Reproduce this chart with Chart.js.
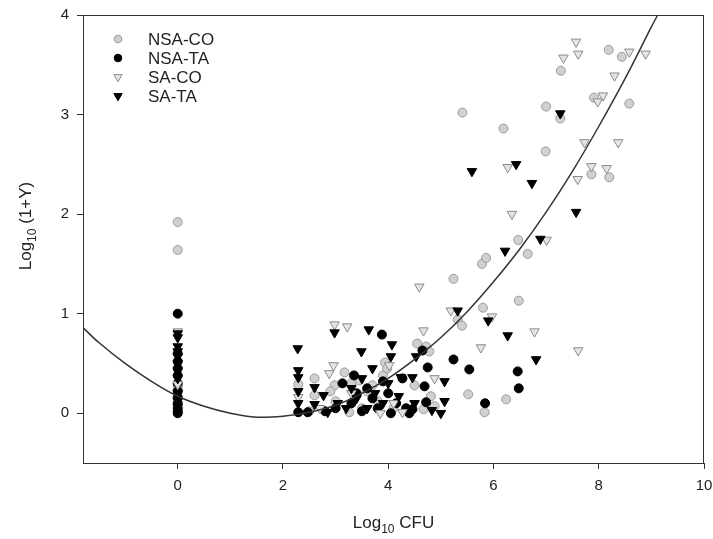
<!DOCTYPE html>
<html>
<head>
<meta charset="utf-8">
<script src="https://cdn.jsdelivr.net/npm/chart.js@4/dist/chart.umd.min.js"></script>
<style>
  html, body { margin: 0; padding: 0; background: #fff; }
  #wrap { width: 713px; height: 539px; }
</style>
</head>
<body>
<div id="wrap"><canvas id="c" width="713" height="539"></canvas></div>
<script>
// ---- data ----
const seriesNames = ['NSA-CO', 'NSA-TA', 'SA-CO', 'SA-TA'];
const xTicks = [0, 2, 4, 6, 8, 10];
const yTicks = [0, 1, 2, 3, 4];

const nsaCo = [
  [0,1.92],[0,1.64],[0,0.27],[0,0.24],
  [2.29,0.29],[2.60,0.35],[2.60,0.18],[2.98,0.28],[3.17,0.41],[3.26,0.01],[2.9,0.22],[3.3,0.30],
  [3.45,0.33],[3.6,0.22],[3.0,0.12],[3.7,0.28],[3.9,0.38],[3.94,0.51],[3.98,0.45],[3.8,0.12],
  [4.1,0.05],[4.55,0.70],[4.72,0.67],[4.78,0.62],[4.81,0.17],[4.88,0.07],[4.67,0.04],[4.5,0.28],
  [3.5,0.05],[2.5,0.02],
  [5.24,1.35],[5.32,0.94],[5.40,0.88],[5.78,1.50],[5.86,1.56],[5.80,1.06],[6.48,1.13],[5.52,0.19],
  [6.24,0.14],[5.83,0.01],[5.41,3.02],[6.19,2.86],[7.00,3.08],[7.27,2.96],[6.99,2.63],[7.91,3.17],
  [8.58,3.11],[7.86,2.40],[8.20,2.37],[6.47,1.74],[6.65,1.60],[7.28,3.44],[8.19,3.65],[8.44,3.58]
];
const nsaTa = [
  [0,1.00],[0,0.60],[0,0.52],[0,0.45],[0,0.38],[0,0.30],[0,0.22],[0,0.16],[0,0.10],[0,0.05],[0,0.02],[0,0.0],
  [2.29,0.01],[2.47,0.01],[3.13,0.30],[3.88,0.79],[4.27,0.35],[4.34,0.05],[4.65,0.63],[4.75,0.46],
  [4.69,0.27],[4.72,0.11],[4.46,0.04],[3.3,0.10],[3.5,0.02],[3.7,0.15],[3.8,0.05],[3.6,0.25],
  [4.0,0.20],[4.4,0.0],[3.0,0.05],[2.8,0.02],[3.9,0.32],[4.15,0.10],[3.4,0.20],[3.35,0.38],[4.05,0.0],
  [5.24,0.54],[5.54,0.44],[6.46,0.42],[6.48,0.25],[5.84,0.10]
];
const saCo = [
  [0,0.82],[0,0.29],[2.29,0.16],
  [2.98,0.89],[3.22,0.87],[2.96,0.48],[2.88,0.40],[4.02,0.48],[4.67,0.83],[4.88,0.35],[4.27,0.01],
  [4.59,1.27],[3.3,0.20],[3.6,0.05],[4.1,0.10],[3.85,0.0],[2.7,0.05],
  [5.19,1.03],[5.97,0.97],[6.78,0.82],[5.76,0.66],[7.61,0.63],[6.27,2.47],[7.86,2.48],[8.15,2.46],
  [7.60,2.35],[6.35,2.00],[7.01,1.74],[7.73,2.72],[8.37,2.72],[8.08,3.19],[7.98,3.13],[7.57,3.73],
  [7.61,3.61],[7.33,3.57],[8.58,3.63],[8.89,3.61],[8.30,3.39]
];
const saTa = [
  [0,0.80],[0,0.76],[0,0.67],[0,0.62],[0,0.57],[0,0.50],[0,0.43],[0,0.35],[0,0.20],[0,0.12],[0,0.06],
  [2.28,0.65],[2.29,0.43],[2.29,0.36],[2.29,0.22],[2.29,0.10],[2.60,0.26],[2.60,0.09],[2.77,0.18],
  [2.98,0.81],[3.63,0.84],[3.49,0.62],[4.07,0.69],[4.05,0.57],[4.53,0.57],[3.70,0.45],[4.24,0.36],
  [4.46,0.36],[4.20,0.17],[4.50,0.10],[4.83,0.03],[3.04,0.10],[2.85,0.01],[3.3,0.25],[3.4,0.15],
  [3.5,0.35],[3.6,0.05],[3.75,0.20],[3.9,0.10],[4.0,0.30],[3.2,0.05],
  [5.07,0.32],[5.07,0.12],[5.00,0.0],[5.32,1.03],[5.90,0.93],[6.27,0.78],[6.81,0.54],[5.59,2.43],
  [6.43,2.50],[6.73,2.31],[7.27,3.01],[7.57,2.02],[6.89,1.75],[6.22,1.63]
];
const curveX = [-1.8,-1.5,-1,-0.5,0,0.5,1,1.5,2,2.5,3,3.5,4,4.5,5,5.5,6,6.5,7,7.5,8,8.5,9,9.12];
const curveY = [0.86,0.71,0.50,0.32,0.17,0.07,0.00,-0.04,-0.03,0.01,0.08,0.20,0.35,0.54,0.76,1.02,1.32,1.65,2.02,2.43,2.88,3.36,3.88,4.0];

// ---- chart ----
const FONT = "'Liberation Sans', Arial, sans-serif";
const toPts = arr => arr.map(p => ({x: p[0], y: p[1]}));

const styles = [
  {pointStyle: 'circle', rotation: 0, radius: 4.5, bg: '#d0d0d0', border: '#9a9a9a'},
  {pointStyle: 'circle', rotation: 0, radius: 4.5, bg: '#000000', border: '#000000'},
  {pointStyle: 'triangle', rotation: 180, radius: 5.5, bg: '#e4e4e4', border: '#8c8c8c'},
  {pointStyle: 'triangle', rotation: 180, radius: 5.5, bg: '#000000', border: '#000000'}
];
const seriesData = [nsaCo, nsaTa, saCo, saTa];

const datasets = seriesData.map((d, i) => ({
  type: 'scatter',
  label: seriesNames[i],
  data: toPts(d),
  pointStyle: styles[i].pointStyle,
  rotation: styles[i].rotation,
  pointRadius: styles[i].radius,
  pointHoverRadius: styles[i].radius,
  backgroundColor: styles[i].bg,
  borderColor: styles[i].border,
  borderWidth: 1,
  order: 4 - i + 1
}));
datasets.push({
  type: 'line',
  label: 'fit',
  data: curveX.map((x, i) => ({x, y: curveY[i]})),
  borderColor: '#333333',
  borderWidth: 1.5,
  pointRadius: 0,
  tension: 0.3,
  fill: false,
  order: 0
});

function drawSubText(ctx, parts, cx, cy, size) {
  let total = 0;
  const widths = parts.map(p => {
    ctx.font = (p.sub ? Math.round(size * 0.7) : size) + 'px ' + FONT;
    const w = ctx.measureText(p.t).width;
    total += w;
    return w;
  });
  let x = cx - total / 2;
  parts.forEach((p, i) => {
    ctx.font = (p.sub ? Math.round(size * 0.7) : size) + 'px ' + FONT;
    ctx.textAlign = 'left';
    ctx.textBaseline = 'alphabetic';
    ctx.fillText(p.t, x, cy + (p.sub ? size * 0.3 : 0));
    x += widths[i];
  });
}

const decor = {
  id: 'decor',
  afterDraw(chart) {
    const {ctx, chartArea: a} = chart;
    ctx.save();
    // frame
    ctx.strokeStyle = '#333';
    ctx.lineWidth = 1;
    ctx.strokeRect(Math.round(a.left) + 0.5, Math.round(a.top) + 0.5,
                   Math.round(a.right - a.left) - 1, Math.round(a.bottom - a.top));
    ctx.fillStyle = '#222';
    // x title
    drawSubText(ctx, [{t: 'Log'}, {t: '10', sub: true}, {t: ' CFU'}], (a.left + a.right) / 2, 528, 17);
    // y title
    ctx.save();
    ctx.translate(31, 226);
    ctx.rotate(-Math.PI / 2);
    drawSubText(ctx, [{t: 'Log'}, {t: '10', sub: true}, {t: ' (1+Y)'}], 0, 0, 17);
    ctx.restore();
    // legend
    const lx = 118, ly = [39, 58, 77, 96];
    styles.forEach((s, i) => {
      ctx.save();
      ctx.fillStyle = s.bg;
      ctx.strokeStyle = s.border;
      ctx.lineWidth = 1;
      const r = s.pointStyle === 'circle' ? 3.8 : 4.8;
      ctx.beginPath();
      if (s.pointStyle === 'circle') {
        ctx.arc(lx, ly[i], r, 0, Math.PI * 2);
      } else {
        ctx.moveTo(lx - r * 0.866, ly[i] - r * 0.5);
        ctx.lineTo(lx + r * 0.866, ly[i] - r * 0.5);
        ctx.lineTo(lx, ly[i] + r);
        ctx.closePath();
      }
      ctx.fill();
      ctx.stroke();
      ctx.restore();
      ctx.fillStyle = '#222';
      ctx.font = '17px ' + FONT;
      ctx.textAlign = 'left';
      ctx.textBaseline = 'middle';
      ctx.fillText(seriesNames[i], 148, ly[i] + 1);
    });
    ctx.restore();
  }
};

new Chart(document.getElementById('c'), {
  data: {datasets},
  options: {
    responsive: false,
    animation: false,
    events: [],
    layout: {padding: {top: 15, right: 9, left: 0, bottom: 0}},
    plugins: {legend: {display: false}, tooltip: {enabled: false}},
    scales: {
      x: {
        type: 'linear',
        min: -1.8, max: 10,
        afterBuildTicks: s => { s.ticks = xTicks.map(v => ({value: v})); },
        afterFit: s => { s.height = 76; s.paddingLeft = 0; s.paddingRight = 0; },
        grid: {display: true, drawOnChartArea: false, drawTicks: true, tickLength: 6, color: '#333', tickColor: '#333'},
        border: {display: true, color: '#333'},
        ticks: {color: '#222', font: {family: FONT, size: 15}, padding: 8, maxRotation: 0, autoSkip: false}
      },
      y: {
        type: 'linear',
        min: -0.5, max: 4,
        afterBuildTicks: s => { s.ticks = yTicks.map(v => ({value: v})); },
        afterFit: s => { s.width = 83; s.paddingTop = 0; s.paddingBottom = 0; },
        grid: {display: true, drawOnChartArea: false, drawTicks: true, tickLength: 6, color: '#333', tickColor: '#333'},
        border: {display: true, color: '#333'},
        ticks: {color: '#222', font: {family: FONT, size: 15}, padding: 8, autoSkip: false}
      }
    }
  },
  plugins: [decor]
});
</script>
</body>
</html>
